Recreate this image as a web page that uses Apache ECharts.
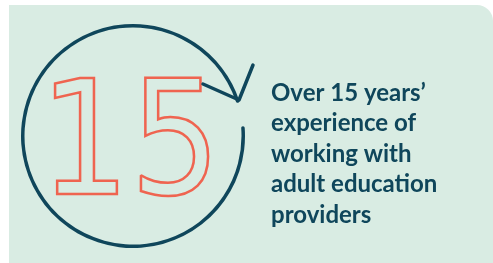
<!DOCTYPE html>
<html>
<head>
<meta charset="utf-8">
<script src="https://cdn.jsdelivr.net/npm/echarts@6/dist/echarts.min.js"></script>
<style>
  html, body { margin: 0; padding: 0; background: #ffffff; }
  #container { width: 493px; height: 263px; }
</style>
</head>
<body>
<div id="container"></div>
<script>
// datos
const anios = [15];
const lineasTexto = ["Over 15 years\u2019", "experience of", "working with", "adult education", "providers"];

const azul = "#0f465b";
const coral = "#ef6450";
const fondo = "#d9ece3";

let dom = document.getElementById("container");
let myChart = echarts.init(dom, null, { renderer: "canvas", useDirtyRect: false });

let option = {
  backgroundColor: "#ffffff",
  graphic: [
    {
      type: "rect",
      z: -10,
      shape: { x: 9, y: 5, width: 484, height: 260, r: [0, 16, 0, 0] },
      style: { fill: fondo }
    },
    {
      // punta de flecha
      type: "polyline",
      z: 10,
      shape: { points: [[203, 84], [239, 100], [253, 65]] },
      style: { stroke: azul, lineWidth: 3.5, fill: null, lineCap: "round", lineJoin: "round" }
    },
    {
      type: "text",
      left: 271,
      top: 78,
      style: {
        text: lineasTexto.join("\n"),
        fill: azul,
        font: "bold 24px Lato",
        lineHeight: 30.5
      }
    }
  ],
  series: [
    {
      type: "gauge",
      center: [133, 136],
      radius: 112,
      startAngle: 4.2,
      endAngle: -341.5,
      min: 0,
      max: 100,
      pointer: { show: false },
      progress: { show: false },
      axisLine: { roundCap: true, lineStyle: { width: 3.5, color: [[1, azul]] } },
      axisTick: { show: false },
      splitLine: { show: false },
      axisLabel: { show: false },
      title: { show: false },
      detail: {
        offsetCenter: [-3, 17],
        valueAnimation: false,
        formatter: "{value}",
        fontFamily: "DejaVu Sans Condensed",
        fontSize: 158,
        fontWeight: "normal",
        color: "transparent",
        textBorderColor: coral,
        textBorderWidth: 2.5
      },
      data: anios.map((v) => ({ value: v }))
    }
  ]
};

if (option && typeof option === "object") {
  myChart.setOption(option);
}

window.addEventListener("resize", myChart.resize);
</script>
</body>
</html>
